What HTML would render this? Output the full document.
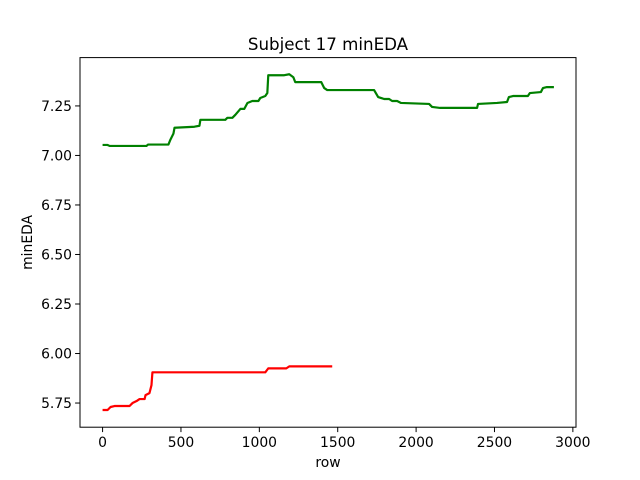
<!DOCTYPE html>
<html><head><meta charset="utf-8"><style>
body{margin:0;background:#fff}
svg{display:block;font-family:"DejaVu Sans","Liberation Sans",sans-serif}
</style></head><body>
<svg id="chart" width="640" height="480" viewBox="0 0 640 480" xmlns="http://www.w3.org/2000/svg"></svg>
<script>
const xTicks=[0,500,1000,1500,2000,2500,3000];
const yTicks=[5.75,6.00,6.25,6.50,6.75,7.00,7.25];
const yTickLabels=["5.75","6.00","6.25","6.50","6.75","7.00","7.25"];
const greenRows=[0,32,45,280,290,420,433,452,459,586,618,624,783,796,828,847,879,904,924,955,994,1006,1038,1051,1057,1159,1191,1217,1229,1395,1414,1433,1732,1758,1796,1828,1847,1879,1904,2083,2102,2153,2389,2395,2516,2580,2592,2618,2713,2726,2796,2809,2834,2879];
const greenVals=[7.053,7.053,7.048,7.048,7.055,7.055,7.08,7.11,7.14,7.145,7.15,7.18,7.18,7.19,7.19,7.205,7.235,7.235,7.265,7.275,7.275,7.29,7.30,7.315,7.405,7.405,7.41,7.395,7.37,7.37,7.34,7.33,7.33,7.295,7.285,7.285,7.275,7.275,7.265,7.26,7.245,7.24,7.24,7.26,7.265,7.27,7.295,7.30,7.30,7.315,7.32,7.34,7.345,7.345];
const redRows=[0,32,51,76,172,191,217,236,268,274,299,312,318,1038,1057,1172,1191,1465];
const redVals=[5.715,5.715,5.73,5.735,5.735,5.75,5.76,5.77,5.77,5.79,5.80,5.84,5.905,5.905,5.925,5.925,5.935,5.935];

const L=80,R=576,T=57.6,B=427.2;
const xMin=-144,xMax=3020,yMin=5.628,yMax=7.494;
const xs=v=>L+(v-xMin)/(xMax-xMin)*(R-L);
const ys=v=>B-(v-yMin)/(yMax-yMin)*(B-T);
const svg=document.getElementById('chart');
const NS='http://www.w3.org/2000/svg';
function mk(tag,attrs,parent){const e=document.createElementNS(NS,tag);for(const k in attrs)e.setAttribute(k,attrs[k]);(parent||svg).appendChild(e);return e;}

function series(rows,vals,color,name){
  const d=rows.map((r,i)=>(i?'L':'M')+xs(r).toFixed(2)+','+ys(vals[i]).toFixed(2)).join('');
  const p=mk('path',{d:d,fill:'none',stroke:color,'stroke-width':2.2,'stroke-linejoin':'round'});
  
  
}
series(greenRows,greenVals,'#008000','green-line');
series(redRows,redVals,'#ff0000','red-line');

const frame=mk('rect',{x:L,y:T,width:R-L,height:B-T,fill:'none',stroke:'#000','stroke-width':1});



xTicks.forEach(t=>{
  const x=xs(t);
  const g=mk('g',{});
  
  
  mk('line',{x1:x,x2:x,y1:B,y2:B+4.9,stroke:'#000','stroke-width':1},g);
  const tx=mk('text',{x:x,y:B+20,'text-anchor':'middle','font-size':13.9},g);
  tx.textContent=String(t);
});
yTicks.forEach((t,i)=>{
  const y=ys(t);
  const g=mk('g',{});
  
  
  mk('line',{x1:L-4.9,x2:L,y1:y,y2:y,stroke:'#000','stroke-width':1},g);
  const tx=mk('text',{x:L-8,y:y+5,'text-anchor':'end','font-size':13.9},g);
  tx.textContent=yTickLabels[i];
});
const title=mk('text',{x:(L+R)/2,y:50,'text-anchor':'middle','font-size':16.7});
title.textContent='Subject 17 minEDA';


const xl=mk('text',{x:(L+R)/2,y:467,'text-anchor':'middle','font-size':13.9});
xl.textContent='row';


const yl=mk('text',{x:0,y:0,'text-anchor':'middle','font-size':13.9,transform:'translate(32,'+((T+B)/2)+') rotate(-90)'});
yl.textContent='minEDA';


</script>
</body></html>
